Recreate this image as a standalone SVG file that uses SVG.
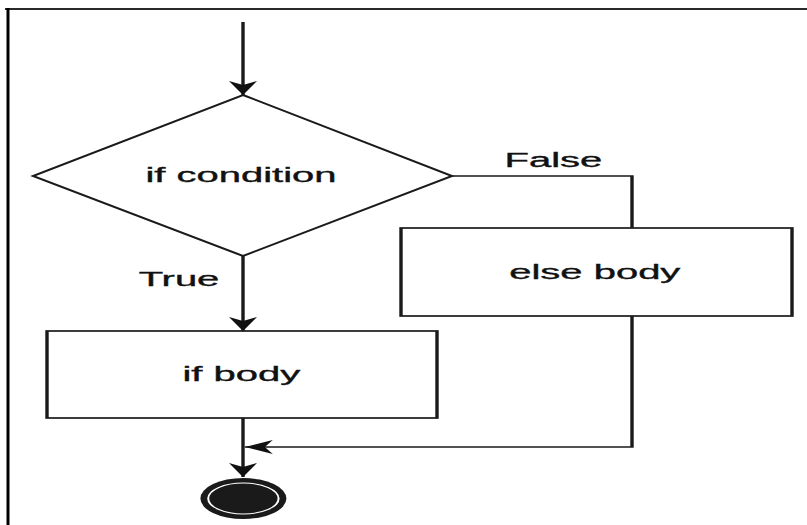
<svg xmlns="http://www.w3.org/2000/svg" width="807" height="525" viewBox="0 0 807 525">
  <defs>
    <marker id="arrow" markerUnits="userSpaceOnUse" viewBox="-15 -7.5 15 15" markerWidth="15" markerHeight="15" refX="0" refY="0" orient="auto">
      <path d="M0,0 L-14,-7 L-10,0 L-14,7 Z" fill="#111"/>
    </marker>
  </defs>
  <style>
    .shape { fill: #fff; stroke: #1a1a1a; stroke-width: 1.7; }
    .edge { fill: none; stroke: #1a1a1a; stroke-width: 1.7; }
    .label { font-family: "Liberation Sans", Arial, sans-serif; font-size: 20px; fill: #111; stroke: #111; stroke-width: 0.35; text-anchor: middle; }
  </style>
  <rect width="807" height="525" fill="#fff"/>
  <!-- frame -->
  <line x1="5" y1="9" x2="807" y2="9" stroke="#2a2a2a" stroke-width="2"/>
  <line x1="8" y1="8" x2="8" y2="525" stroke="#000" stroke-width="3"/>

  <!-- flowchart drawn at half width, stretched 2x horizontally -->
  <g transform="scale(2,1)">
    <g id="connectors">
      <line class="edge" x1="121.5" y1="22" x2="121.5" y2="95" marker-end="url(#arrow)"/>
      <line class="edge" x1="121.5" y1="256" x2="121.5" y2="331" marker-end="url(#arrow)"/>
      <polyline class="edge" points="226,176 316,176 316,228"/>
      <polyline class="edge" points="316,316 316,447 122.4,447" marker-end="url(#arrow)"/>
      <line class="edge" x1="121.5" y1="418" x2="121.5" y2="477" marker-end="url(#arrow)"/>
      <text class="label" x="276.7" y="167">False</text>
      <text class="label" x="89.5" y="286">True</text>
    </g>
    <g id="condition">
      <polygon class="shape" points="121.5,95 226,176 121.5,256 16.5,176"/>
      <text class="label" x="120.5" y="182">if condition</text>
    </g>
    <g id="else-body">
      <rect class="shape" x="200.5" y="228" width="195.5" height="88"/>
      <text class="label" x="297.4" y="279">else body</text>
    </g>
    <g id="if-body">
      <rect class="shape" x="23.5" y="331" width="195" height="87"/>
      <text class="label" x="120.7" y="381">if body</text>
    </g>
    <g id="end">
      <ellipse cx="121.7" cy="498.5" rx="21.5" ry="20.5" fill="#1a1a1a"/>
      <ellipse cx="121.7" cy="498.5" rx="17.6" ry="15.5" fill="none" stroke="#fff" stroke-width="1"/>
    </g>
  </g>
</svg>
